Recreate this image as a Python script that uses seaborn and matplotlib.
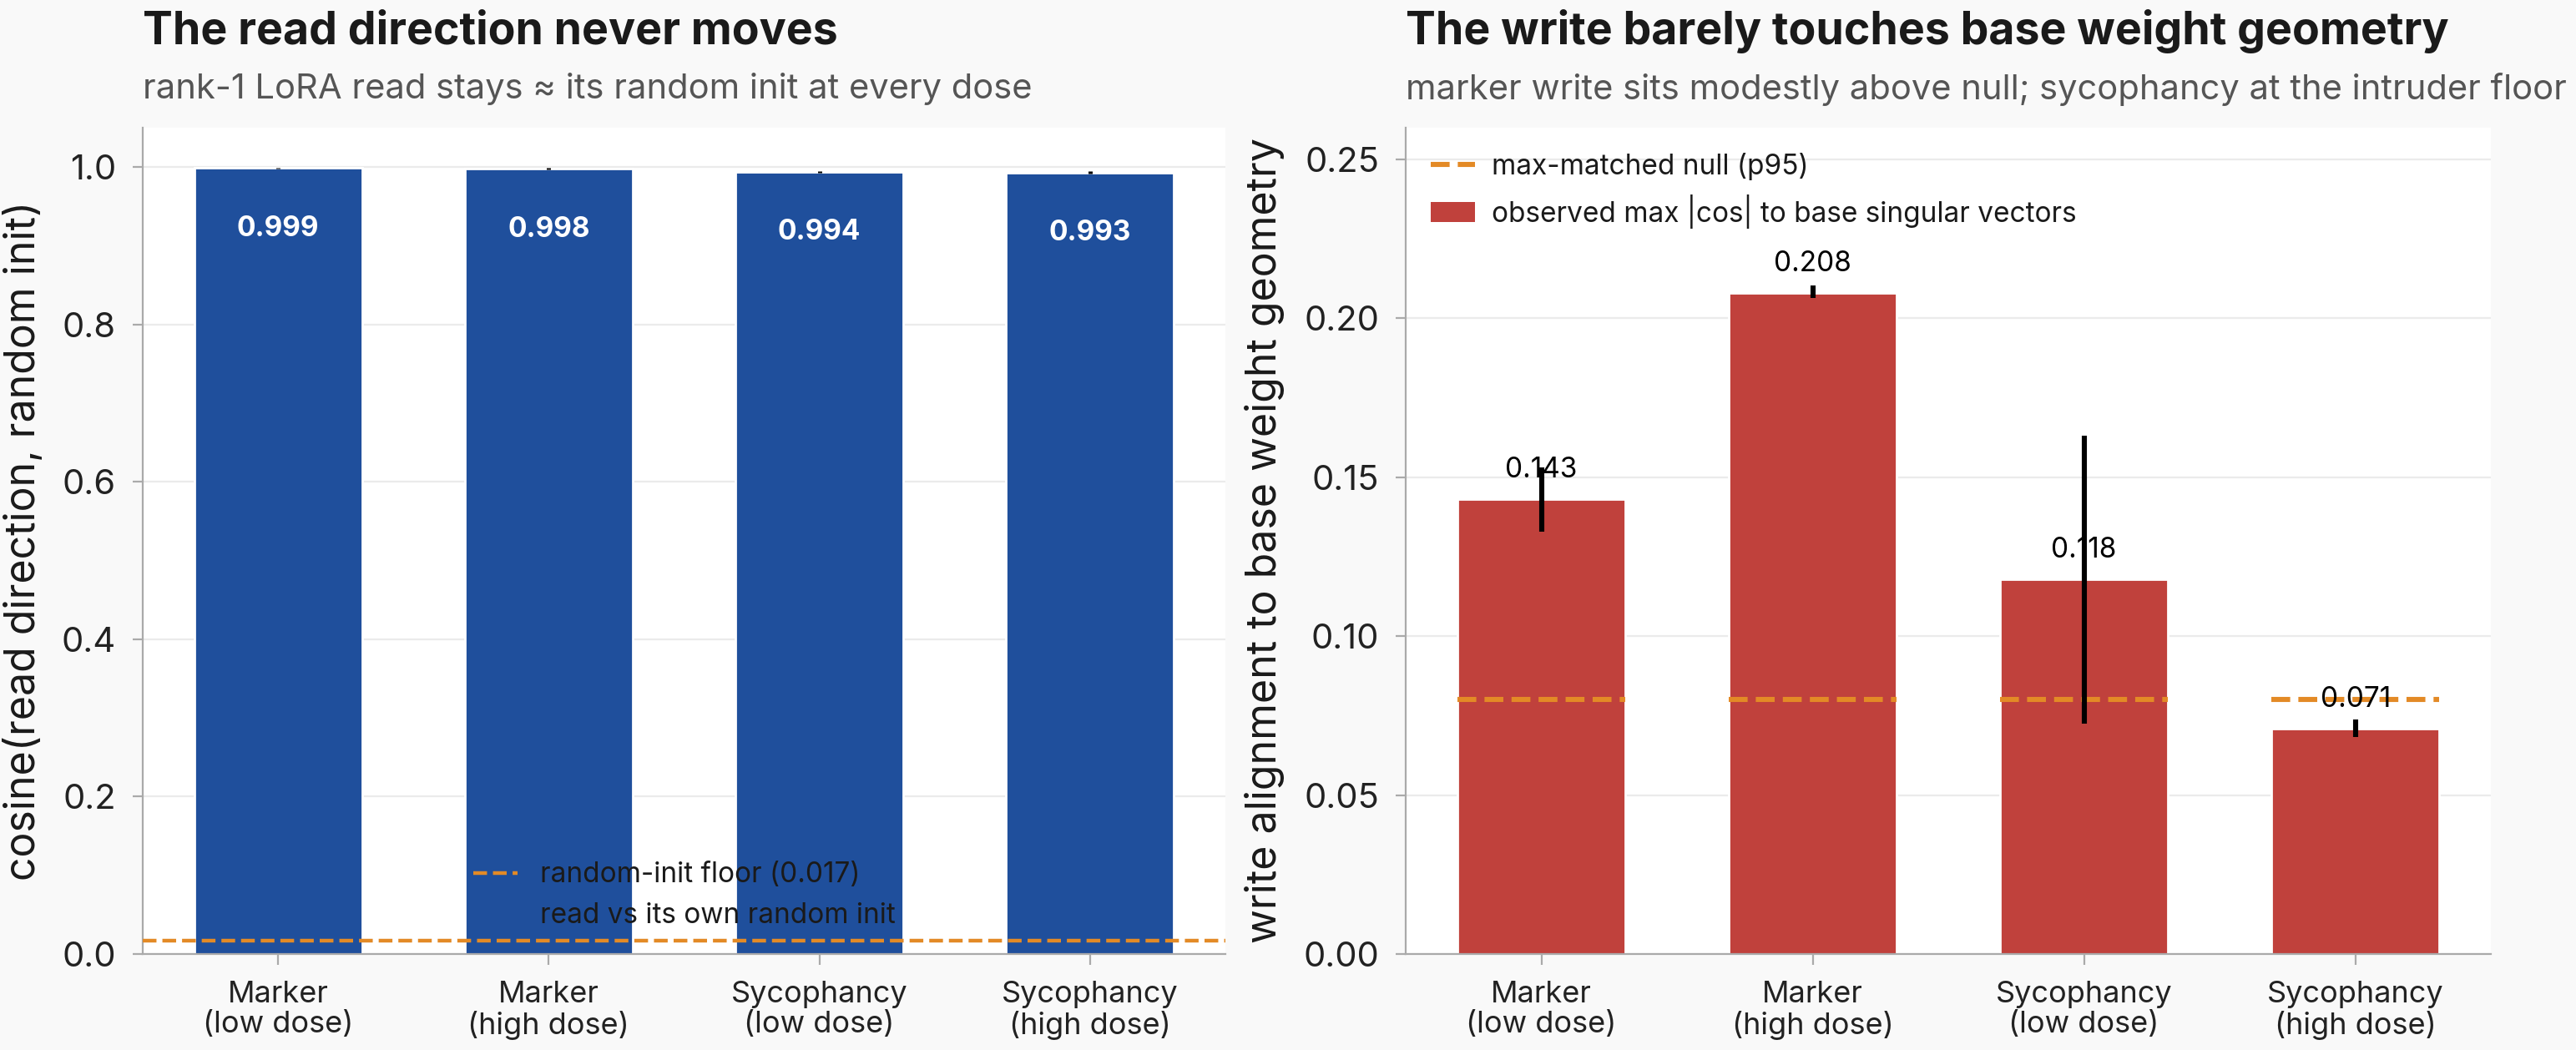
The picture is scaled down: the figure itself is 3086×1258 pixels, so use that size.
import matplotlib
matplotlib.use('Agg')
import matplotlib.pyplot as plt
from matplotlib.lines import Line2D
from matplotlib.patches import Patch
import seaborn as sns
import numpy as np

# data
conditions = ['Marker\n(low dose)', 'Marker\n(high dose)',
              'Sycophancy\n(low dose)', 'Sycophancy\n(high dose)']

# left panel: cosine of read direction vs its own random init
read_cos = [0.999, 0.998, 0.994, 0.993]
read_err = [0.0005, 0.0008, 0.0012, 0.0015]
read_floor = 0.017

# right panel: max |cos| of write to base singular vectors
write_cos = [0.143, 0.208, 0.118, 0.071]
write_lo = [0.133, 0.2064, 0.0725, 0.0683]
write_hi = [0.153, 0.2103, 0.163, 0.0738]
null_p95 = [0.080, 0.080, 0.080, 0.080]

BLUE = '#1f4f9c'
RED = '#c0413c'
ORANGE = '#e38a26'
GRID = '#ebebeb'
SPINE = '#aaaaaa'
BG = '#f9f9f9'
BAR_W = 0.62

sns.set_theme(style='white')
plt.rcParams['font.family'] = ['Inter', 'DejaVu Sans']
plt.rcParams['text.color'] = '#1a1a1a'
plt.rcParams['axes.labelcolor'] = '#1a1a1a'
plt.rcParams['xtick.color'] = SPINE
plt.rcParams['ytick.color'] = SPINE
plt.rcParams['xtick.labelcolor'] = '#222222'
plt.rcParams['ytick.labelcolor'] = '#222222'

fig = plt.figure(figsize=(15.43, 6.29), dpi=200, facecolor=BG)
ax0 = fig.add_axes([0.0554, 0.0914, 0.4203, 0.787])
ax1 = fig.add_axes([0.5457, 0.0914, 0.4213, 0.787])

x = np.arange(len(conditions))


def style_axes(ax, ylim, yticks, ylabel):
    ax.set_facecolor('white')
    ax.set_ylim(*ylim)
    ax.set_xlim(-0.5, len(conditions) - 0.5)
    ax.set_yticks(yticks)
    ax.yaxis.grid(True, color=GRID, linewidth=0.8, zorder=0)
    ax.xaxis.grid(False)
    ax.set_axisbelow(True)
    for s in ['top', 'right']:
        ax.spines[s].set_visible(False)
    for s in ['left', 'bottom']:
        ax.spines[s].set_color(SPINE)
        ax.spines[s].set_linewidth(0.8)
    ax.tick_params(axis='both', which='major', length=4.5, width=0.8,
                   pad=7, left=True, bottom=True)
    ax.tick_params(axis='y', labelsize=15)
    ax.tick_params(axis='x', labelsize=13)
    ax.set_xticks(x)
    ax.set_xticklabels(conditions, linespacing=1.1)
    ax.set_xlabel('')
    ax.set_ylabel(ylabel, fontsize=18, labelpad=8)


##################################################################################
# left panel
sns.barplot(x=conditions, y=read_cos, color=BLUE, width=BAR_W, saturation=1,
            errorbar=None, ax=ax0, zorder=2)
ax0.errorbar(x, read_cos, yerr=read_err, fmt='none', ecolor='black',
             elinewidth=1.8, capsize=0, zorder=4)
ax0.axhline(read_floor, color=ORANGE, linestyle='--', linewidth=1.6, zorder=3)
for xi, v in zip(x, read_cos):
    ax0.text(xi, v - 0.077, f'{v:.3f}', ha='center', va='center',
             color='white', fontsize=12, fontweight='bold', zorder=5)
style_axes(ax0, (0, 1.05), np.arange(0, 1.01, 0.2),
           'cosine(read direction, random init)')
ax0.set_yticklabels([f'{t:.1f}' for t in np.arange(0, 1.01, 0.2)])

h0 = [Line2D([0], [0], color=ORANGE, linestyle='--', linewidth=1.6),
      Patch(facecolor=BLUE, edgecolor='none')]
ax0.legend(h0, ['random-init floor (0.017)', 'read vs its own random init'],
           loc='lower center', frameon=False, fontsize=12, handlelength=1.6,
           handletextpad=0.8)

##################################################################################
# right panel
sns.barplot(x=conditions, y=write_cos, color=RED, width=BAR_W, saturation=1,
            errorbar=None, ax=ax1, zorder=2)
ax1.hlines(null_p95, x - BAR_W / 2, x + BAR_W / 2, colors=ORANGE,
           linestyles='--', linewidth=2.2, zorder=3)
ax1.vlines(x, write_lo, write_hi, colors='black', linewidth=2.2, zorder=4)
for xi, v in zip(x, write_cos):
    ax1.text(xi, v + 0.005, f'{v:.3f}', ha='center', va='bottom',
             color='black', fontsize=12, zorder=5)
yt = np.arange(0, 0.251, 0.05)
style_axes(ax1, (0, 0.26), yt, 'write alignment to base weight geometry')
ax1.set_yticklabels([f'{t:.2f}' for t in yt])

h1 = [Line2D([0], [0], color=ORANGE, linestyle='--', linewidth=2.2),
      Patch(facecolor=RED, edgecolor='none')]
ax1.legend(h1, ['max-matched null (p95)',
                'observed max |cos| to base singular vectors'],
           loc='upper left', frameon=False, fontsize=12, handlelength=1.6,
           handletextpad=0.6)

##################################################################################
# titles
fig.text(0.0554, 0.970, 'The read direction never moves', fontsize=19.3,
         fontweight='bold', ha='left', va='center', color='#1a1a1a')
fig.text(0.0554, 0.915, 'rank-1 LoRA read stays \u2248 its random init at every dose',
         fontsize=15, ha='left', va='center', color='#555555')
fig.text(0.5457, 0.970, 'The write barely touches base weight geometry',
         fontsize=19.3, fontweight='bold', ha='left', va='center', color='#1a1a1a')
fig.text(0.5457, 0.915,
         'marker write sits modestly above null; sycophancy at the intruder floor',
         fontsize=15, ha='left', va='center', color='#555555')

fig.savefig('out.png', dpi=200, facecolor=BG)
